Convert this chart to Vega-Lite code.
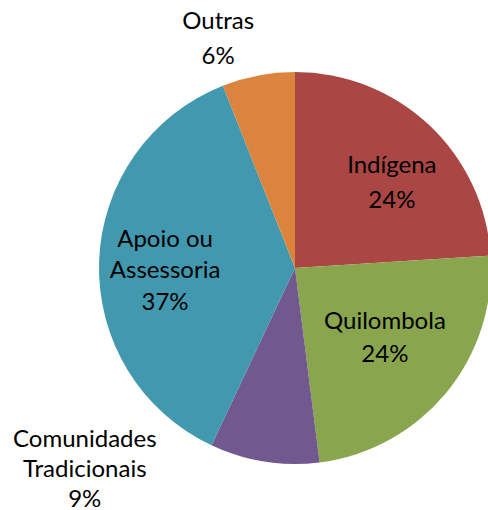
{
  "$schema": "https://vega.github.io/schema/vega-lite/v6.json",
  "autosize": "none",
  "width": 392,
  "height": 392,
  "padding": {"left": 99, "top": 72, "right": 0, "bottom": 46},
  "background": "white",
  "view": {"stroke": null},
  "data": {"values": [
    {"i": 1, "cat": "Indígena", "pct": 24, "label": "Indígena\n24%"},
    {"i": 2, "cat": "Quilombola", "pct": 24, "label": "Quilombola\n24%"},
    {"i": 3, "cat": "Comunidades Tradicionais", "pct": 9, "label": "Comunidades\nTradicionais\n9%"},
    {"i": 4, "cat": "Apoio ou Assessoria", "pct": 37, "label": "Apoio ou\nAssessoria\n37%"},
    {"i": 5, "cat": "Outras", "pct": 6, "label": "Outras\n6%"}
  ]},
  "encoding": {
    "theta": {"field": "pct", "type": "quantitative", "stack": true},
    "order": {"field": "i", "type": "quantitative"}
  },
  "layer": [
    {
      "mark": {"type": "arc", "outerRadius": 196},
      "encoding": {
        "color": {"field": "cat", "type": "nominal", "legend": null,
          "scale": {"domain": ["Indígena", "Quilombola", "Comunidades Tradicionais", "Apoio ou Assessoria", "Outras"],
                    "range": ["#AA4643", "#89A54E", "#71588F", "#4198AF", "#DB843D"]}}
      }
    },
    {
      "mark": {"type": "text", "radius": 140, "dx": 1, "font": "Lato", "fontSize": 24, "lineHeight": 35, "lineBreak": "\n", "align": "center", "baseline": "middle", "color": "black"},
      "encoding": {"text": {"condition": {"test": "datum.cat === 'Indígena'", "field": "label"}, "value": ""}}
    },
    {
      "mark": {"type": "text", "radius": 105, "dx": 9, "dy": -13, "font": "Lato", "fontSize": 24, "lineHeight": 33, "lineBreak": "\n", "align": "center", "baseline": "middle", "color": "black"},
      "encoding": {"text": {"condition": {"test": "datum.cat === 'Quilombola'", "field": "label"}, "value": ""}}
    },
    {
      "mark": {"type": "text", "radius": 130, "dy": -24, "font": "Lato", "fontSize": 24, "lineHeight": 31.5, "lineBreak": "\n", "align": "center", "baseline": "middle", "color": "black"},
      "encoding": {"text": {"condition": {"test": "datum.cat === 'Apoio ou Assessoria'", "field": "label"}, "value": ""}}
    },
    {
      "mark": {"type": "text", "radius": 174, "dx": -183, "font": "Lato", "fontSize": 24, "lineHeight": 30, "lineBreak": "\n", "align": "center", "baseline": "middle", "color": "black"},
      "encoding": {"text": {"condition": {"test": "datum.cat === 'Comunidades Tradicionais'", "field": "label"}, "value": ""}}
    },
    {
      "mark": {"type": "text", "radius": 250, "dx": -30, "font": "Lato", "fontSize": 24, "lineHeight": 35, "lineBreak": "\n", "align": "center", "baseline": "middle", "color": "black"},
      "encoding": {"text": {"condition": {"test": "datum.cat === 'Outras'", "field": "label"}, "value": ""}}
    }
  ]
}
